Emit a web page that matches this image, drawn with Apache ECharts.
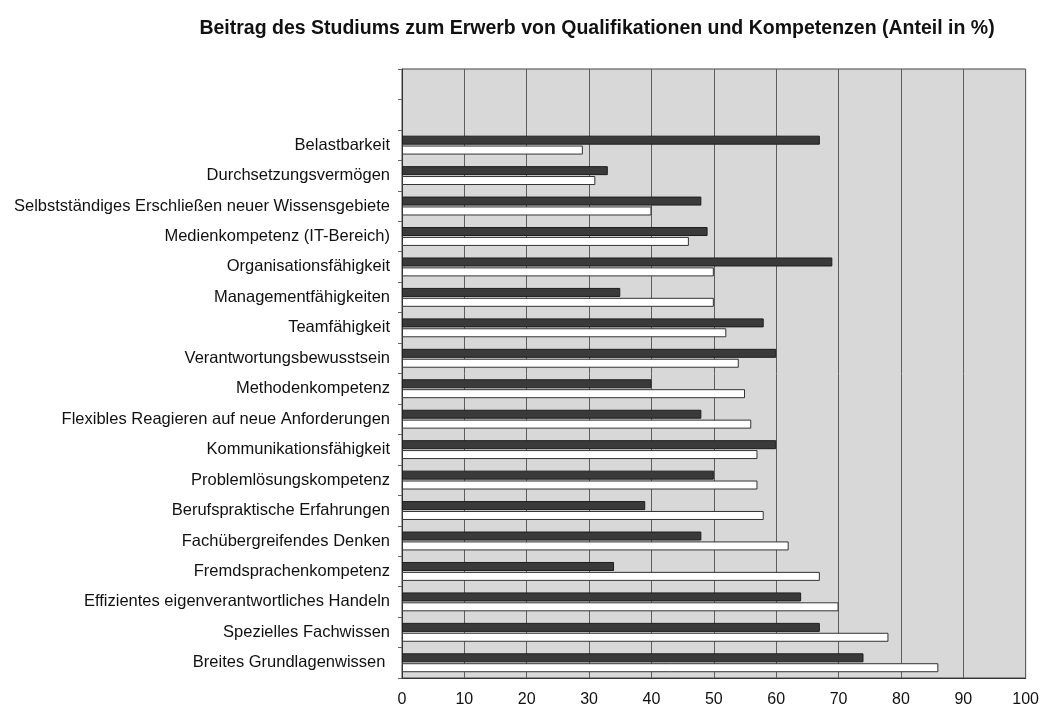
<!DOCTYPE html>
<html>
<head>
<meta charset="utf-8">
<script src="https://cdn.jsdelivr.net/npm/echarts@6/dist/echarts.min.js"></script>
<style>
  html, body { margin: 0; padding: 0; background: #fff; }
  #chart { width: 1042px; height: 708px; }
</style>
</head>
<body>
<div id="chart"></div>
<script>
// two empty slots at the top, as in the original
const categories = [
  '', '',
  'Belastbarkeit',
  'Durchsetzungsvermögen',
  'Selbstständiges Erschließen neuer Wissensgebiete',
  'Medienkompetenz (IT-Bereich)',
  'Organisationsfähigkeit',
  'Managementfähigkeiten',
  'Teamfähigkeit',
  'Verantwortungsbewusstsein',
  'Methodenkompetenz',
  'Flexibles Reagieren auf neue Anforderungen',
  'Kommunikationsfähigkeit',
  'Problemlösungskompetenz',
  'Berufspraktische Erfahrungen',
  'Fachübergreifendes Denken',
  'Fremdsprachenkompetenz',
  'Effizientes eigenverantwortliches Handeln',
  'Spezielles Fachwissen',
  'Breites Grundlagenwissen '
]

const darkValues = [null, null, 67, 33, 48, 49, 69, 35, 58, 60, 40, 48, 60, 50, 39, 48, 34, 64, 67, 74]
const whiteValues = [null, null, 29, 31, 40, 46, 50, 50, 52, 54, 55, 56, 57, 57, 58, 62, 67, 70, 78, 86]

const xTicks = [0, 10, 20, 30, 40, 50, 60, 70, 80, 90, 100]

const chart = echarts.init(document.getElementById('chart'))
const font = 'Liberation Sans, Arial, sans-serif'

chart.setOption({
  animation: false,
  title: {
    text: 'Beitrag des Studiums zum Erwerb von Qualifikationen und Kompetenzen (Anteil in %)',
    left: 592,
    textAlign: 'center',
    top: 14,
    textStyle: {
      fontFamily: font,
      fontWeight: 'bold',
      fontSize: 19.5,
      color: '#111'
    }
  },
  grid: {
    left: 402,
    right: 14,
    top: 69,
    bottom: 30,
    show: true,
    backgroundColor: '#d8d8d8',
    borderColor: '#444',
    borderWidth: 1
  },
  xAxis: {
    type: 'value',
    min: xTicks[0],
    max: xTicks[xTicks.length - 1],
    interval: 10,
    axisLine: { show: true, lineStyle: { color: '#333' } },
    axisTick: { show: false },
    axisLabel: {
      margin: 14,
      fontFamily: font,
      fontSize: 16,
      color: '#111'
    },
    splitLine: { show: true, lineStyle: { color: '#5e5e5e', width: 1 } }
  },
  yAxis: {
    type: 'category',
    data: categories,
    inverse: true,
    axisLine: { show: true, lineStyle: { color: '#333' } },
    axisTick: { show: true, length: 4, lineStyle: { color: '#666' } },
    axisLabel: {
      margin: 12,
      fontFamily: font,
      fontSize: 16.5,
      color: '#111'
    },
    splitLine: { show: false }
  },
  series: [{
    name: 'dunkel',
    type: 'bar',
    data: darkValues,
    barWidth: 9,
    barGap: '10%',
    itemStyle: {
      color: '#3a3a3a',
      borderColor: '#1e1e1e',
      borderWidth: 1
    }
  }, {
    name: 'hell',
    type: 'bar',
    data: whiteValues,
    barWidth: 9,
    barGap: '10%',
    itemStyle: {
      color: '#ffffff',
      borderColor: '#333',
      borderWidth: 1
    }
  }]
})
</script>
</body>
</html>
